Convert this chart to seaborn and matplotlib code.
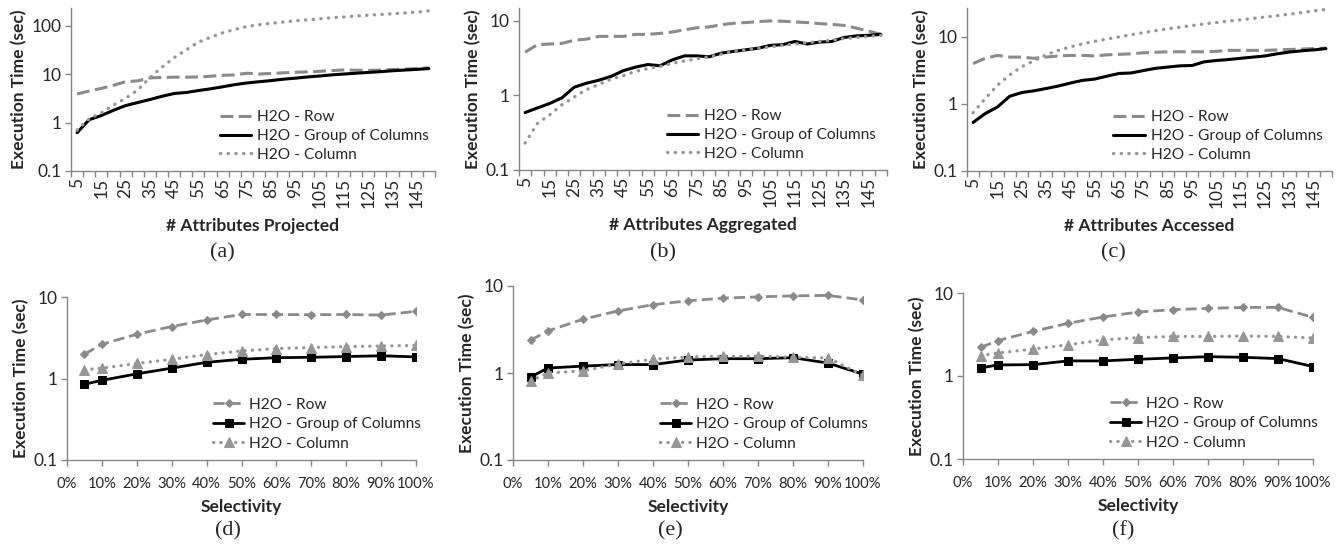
import matplotlib
matplotlib.use("Agg")
import matplotlib.pyplot as plt
import seaborn as sns
import numpy as np
from matplotlib.ticker import FixedLocator, FuncFormatter, NullFormatter

# ---------------- data ----------------
attrs = [5, 10, 15, 20, 25, 30, 35, 40, 45, 50, 55, 60, 65, 70, 75,
         80, 85, 90, 95, 100, 105, 110, 115, 120, 125, 130, 135, 140, 145, 150]
attr_ticks = [5, 15, 25, 35, 45, 55, 65, 75, 85, 95, 105, 115, 125, 135, 145]

proj_row = [3.9, 4.5, 5.1, 5.9, 7.0, 7.3, 8.4, 8.6, 8.7, 8.7, 8.8, 9.1, 9.5, 9.7, 10.5,
            10.1, 10.4, 10.7, 11.0, 11.2, 11.5, 11.9, 12.3, 12.1, 12.0, 12.2, 12.5, 12.8, 13.1, 13.6]
proj_grp = [0.62, 1.15, 1.4, 1.8, 2.25, 2.6, 3.0, 3.5, 4.0, 4.2, 4.6, 5.0, 5.5, 6.1, 6.6,
            7.0, 7.4, 7.9, 8.3, 8.8, 9.2, 9.7, 10.1, 10.5, 10.9, 11.3, 11.8, 12.2, 12.6, 13.1]
proj_col = [0.7, 1.2, 1.6, 2.3, 3.2, 4.7, 8.5, 14, 22, 32, 46, 58, 72, 84, 97,
            106, 113, 120, 127, 133, 140, 147, 153, 160, 166, 172, 178, 185, 192, 205]

agg_row = [3.8, 4.8, 4.9, 5.0, 5.5, 5.7, 6.2, 6.2, 6.2, 6.6, 6.6, 6.8, 7.1, 7.6, 8.1,
           8.3, 8.9, 9.3, 9.5, 9.8, 10.0, 9.9, 9.7, 9.5, 9.2, 9.0, 8.7, 8.0, 7.3, 6.6]
agg_grp = [0.59, 0.68, 0.78, 0.93, 1.29, 1.46, 1.6, 1.8, 2.15, 2.4, 2.6, 2.5, 3.0, 3.4, 3.4,
           3.3, 3.7, 3.9, 4.1, 4.3, 4.7, 4.8, 5.3, 4.9, 5.2, 5.3, 6.0, 6.3, 6.4, 6.6]
agg_col = [0.23, 0.42, 0.55, 0.75, 0.95, 1.2, 1.4, 1.65, 1.85, 2.1, 2.3, 2.45, 2.7, 2.9, 3.1,
           3.3, 3.6, 3.9, 4.1, 4.3, 4.5, 4.7, 4.9, 5.1, 5.3, 5.5, 5.8, 6.0, 6.2, 6.4]

acc_row = [4.0, 4.8, 5.3, 5.0, 5.0, 4.8, 5.0, 5.2, 5.3, 5.3, 5.2, 5.4, 5.5, 5.6, 5.8,
           5.9, 6.0, 6.0, 6.0, 6.0, 6.1, 6.3, 6.3, 6.3, 6.3, 6.4, 6.5, 6.6, 6.7, 6.8]
acc_grp = [0.53, 0.72, 0.9, 1.3, 1.48, 1.57, 1.7, 1.85, 2.05, 2.25, 2.35, 2.6, 2.85, 2.9, 3.15,
           3.4, 3.55, 3.7, 3.75, 4.25, 4.45, 4.6, 4.8, 5.0, 5.2, 5.6, 5.95, 6.2, 6.4, 6.7]
acc_col = [0.74, 1.2, 1.9, 2.7, 3.6, 4.4, 5.4, 6.3, 7.1, 7.9, 8.6, 9.3, 10.0, 10.8, 11.6,
           12.4, 13.2, 14.0, 14.8, 15.6, 16.4, 17.2, 18.0, 18.9, 19.8, 20.8, 21.8, 23.0, 24.5, 25.7]

sel = [5, 10, 20, 30, 40, 50, 60, 70, 80, 90, 100]
sel_ticks = [0, 10, 20, 30, 40, 50, 60, 70, 80, 90, 100]

d_row = [1.99, 2.63, 3.49, 4.34, 5.23, 6.1, 6.1, 6.06, 6.1, 6.0, 6.67]
d_grp = [0.85, 0.95, 1.14, 1.34, 1.58, 1.72, 1.8, 1.82, 1.86, 1.9, 1.84]
d_col = [1.28, 1.34, 1.53, 1.72, 1.97, 2.18, 2.33, 2.4, 2.46, 2.5, 2.55]

e_row = [2.38, 3.05, 4.15, 5.17, 6.1, 6.76, 7.25, 7.5, 7.7, 7.8, 6.9]
e_grp = [0.9, 1.14, 1.2, 1.25, 1.25, 1.41, 1.46, 1.46, 1.5, 1.3, 0.97]
e_col = [0.81, 1.0, 1.06, 1.27, 1.44, 1.53, 1.56, 1.56, 1.52, 1.49, 0.94]

f_row = [2.21, 2.67, 3.45, 4.31, 5.14, 5.9, 6.3, 6.53, 6.7, 6.7, 5.09]
f_grp = [1.25, 1.36, 1.37, 1.52, 1.52, 1.59, 1.65, 1.71, 1.68, 1.62, 1.3]
f_col = [1.76, 1.89, 2.11, 2.38, 2.72, 2.9, 3.0, 3.0, 3.03, 3.0, 2.87]

labels = ["H2O - Row", "H2O - Group of Columns", "H2O - Column"]
xlabels_top = ["# Attributes Projected", "# Attributes Aggregated", "# Attributes Accessed"]
ylabel = "Execution Time (sec)"
captions = ["(a)", "(b)", "(c)", "(d)", "(e)", "(f)"]

# ---------------- style ----------------
sns.set_theme(style="white")
plt.rcParams["font.family"] = ["Lato", "DejaVu Sans"]
plt.rcParams["axes.unicode_minus"] = False

W, H = 1342, 552
fig = plt.figure(figsize=(W / 100, H / 100), dpi=100)
fig.patch.set_facecolor("white")


def rect(l, t, r, b):
    return [l / W, 1 - b / H, (r - l) / W, (b - t) / H]


GRAY = "#8a8a8a"
DOT = "#969696"
AXC = "#868686"
TICKFS = 12.5
SELFS = 10.6
LABFS = 12.5
LEGFS = 11.2
CAPFS = 16

dash_style = (0, (4.2, 1.8))
dot_style = (0, (0.1, 2.2))


def ytick_fmt(v, pos):
    if v >= 1:
        return "%d" % round(v)
    return "%g" % v


def style_axes(ax, ylim):
    ax.set_yscale("log")
    ax.set_ylim(*ylim)
    for s in ["top", "right"]:
        ax.spines[s].set_visible(False)
    for s in ["left", "bottom"]:
        ax.spines[s].set_color(AXC)
        ax.spines[s].set_linewidth(1.0)
    ax.yaxis.set_major_locator(FixedLocator([0.1, 1, 10, 100]))
    ax.yaxis.set_minor_locator(FixedLocator([]))
    ax.yaxis.set_major_formatter(FuncFormatter(ytick_fmt))
    ax.tick_params(axis="y", which="major", direction="out", length=4, width=1,
                   color=AXC, labelsize=TICKFS, pad=3, left=True)
    ax.set_ylabel(ylabel, fontsize=LABFS, fontweight="bold", labelpad=3)
    ax.grid(False)


top_rects = [rect(71, 8, 435, 171), rect(519, 8, 887, 170), rect(967, 8, 1332, 171)]
top_ylims = [(0.1, 234), (0.1, 14.9), (0.1, 27)]
top_data = [(proj_row, proj_grp, proj_col), (agg_row, agg_grp, agg_col), (acc_row, acc_grp, acc_col)]
top_caps_x = [222, 663, 1113]
top_leg_anchor = [(1.01, 0.0), (0.995, 0.0), (1.0, 0.0)]

for i in range(3):
    ax = fig.add_axes(top_rects[i])
    r, g, c = top_data[i]
    sns.lineplot(x=attrs, y=r, ax=ax, color=GRAY, linestyle=dash_style, linewidth=2.2,
                 label=labels[0])
    sns.lineplot(x=attrs, y=g, ax=ax, color="black", linewidth=2.2, label=labels[1])
    sns.lineplot(x=attrs, y=c, ax=ax, color=DOT, linestyle=dot_style, linewidth=2.4,
                 dash_capstyle="round", label=labels[2])
    style_axes(ax, top_ylims[i])
    ax.set_xlim(2.5, 152.5)
    ax.xaxis.set_major_locator(FixedLocator(attr_ticks))
    ax.xaxis.set_minor_locator(FixedLocator([a - 2.5 for a in attrs] + [152.5]))
    ax.xaxis.set_minor_formatter(NullFormatter())
    ax.set_xticklabels([str(t) for t in attr_ticks], rotation=90)
    ax.tick_params(axis="x", which="major", length=0, labelsize=TICKFS, pad=5, bottom=True)
    ax.tick_params(axis="x", which="minor", direction="out", length=4, width=1, color=AXC,
                   bottom=True)
    ax.set_xlabel(xlabels_top[i], fontsize=LABFS, fontweight="bold", labelpad=7)
    leg = ax.legend(loc="lower right", bbox_to_anchor=top_leg_anchor[i], frameon=False,
                    fontsize=LEGFS, handlelength=2.0, labelspacing=0.3, handletextpad=0.4,
                    borderaxespad=0.2)
    fig.text(top_caps_x[i] / W, 1 - 253 / H, captions[i], ha="center", va="center",
             fontsize=CAPFS, family="Liberation Serif")

bot_rects = [rect(67, 297, 416, 460), rect(513, 286, 863, 460), rect(963, 293, 1313, 459)]
bot_data = [(d_row, d_grp, d_col), (e_row, e_grp, e_col), (f_row, f_grp, f_col)]
bot_caps_x = [228, 670, 1123]

for i in range(3):
    ax = fig.add_axes(bot_rects[i])
    r, g, c = bot_data[i]
    sns.lineplot(x=sel, y=r, ax=ax, color=GRAY, linestyle=(0, (4.0, 1.8)), linewidth=2.0,
                 marker="D", markersize=4.5, markeredgecolor=GRAY, markerfacecolor=GRAY,
                 label=labels[0])
    sns.lineplot(x=sel, y=g, ax=ax, color="black", linewidth=2.0, marker="s",
                 markersize=5.5, markeredgecolor="black", markerfacecolor="black",
                 label=labels[1])
    sns.lineplot(x=sel, y=c, ax=ax, color=DOT, linestyle=dot_style, linewidth=2.3,
                 dash_capstyle="round", marker="^", markersize=6.5, markeredgecolor=DOT,
                 markerfacecolor=DOT, label=labels[2])
    style_axes(ax, (0.1, 10))
    ax.set_xlim(0, 100)
    ax.xaxis.set_major_locator(FixedLocator(sel_ticks))
    ax.xaxis.set_major_formatter(FuncFormatter(lambda v, p: "%d%%" % round(v)))
    ax.tick_params(axis="x", which="major", direction="out", length=4, width=1, color=AXC,
                   labelsize=SELFS, pad=8, bottom=True)
    ax.set_xlabel("Selectivity", fontsize=LABFS, fontweight="bold", labelpad=6)
    ax.legend(loc="lower right", bbox_to_anchor=(1.04, 0.0), frameon=False,
              fontsize=LEGFS, handlelength=2.0, labelspacing=0.35, handletextpad=0.3,
              borderaxespad=0.2)
    fig.text(bot_caps_x[i] / W, 1 - 531 / H, captions[3 + i], ha="center", va="center",
             fontsize=CAPFS, family="Liberation Serif")

fig.savefig("out.png", dpi=100, facecolor="white")
